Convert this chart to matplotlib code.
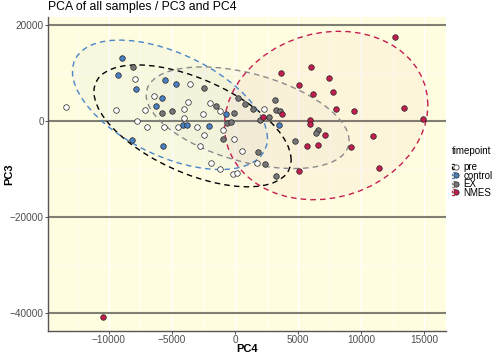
import numpy as np
import matplotlib
matplotlib.use("Agg")
import matplotlib.pyplot as plt
from matplotlib.patches import Polygon, Patch
from matplotlib.lines import Line2D
from matplotlib.legend_handler import HandlerTuple

plt.rcParams['font.family'] = ['Liberation Sans', 'DejaVu Sans']

# ---------------- data (PC4, PC3) ----------------
groups = ["pre", "control", "EX", "NMES"]

pre_pc4 = [-13390, -7913, -9421, -7167, -7802, -6984, -3572, -6405, -3754, -1984,
           -4048, -2516, -1167, -5635, -4500, -2992, -929, -2437, -56, -2778,
           532, -1905, -1190, -183, 159, 2278, 1770, -4087]
pre_pc3 = [2980, 8812, 2354, 2354, -100, -1250, 7646, 5146, 4021, 3812,
           2500, 1396, 2083, -1187, -1312, -1187, -1812, -2979, -3687, -5208,
           -6250, -8687, -10062, -11041, -10770, 2437, -8812, 625]

control_pc4 = [-8969, -9286, -7857, -8151, -5556, -4707, -5770, -6270, -4151, -3833,
               -2040, -714, -5690, 3468]
control_pc3 = [13062, 9521, 6729, -3958, 8479, 7646, 4792, 3062, -896, -833,
               -1104, 1458, -5208, -896]

ex_pc4 = [-8096, -2460, -1508, -5770, -5000, 262, 794, 1452, -56, -659,
          -317, -929, 3175, 3254, 3571, 2722, 2008, 6532, 6373, 4707,
          1802, 2405, 3254]
ex_pc3 = [11187, 6812, 3125, 1667, 2083, 4729, 3541, 2437, 1667, -479,
          -208, -3750, 4375, 2229, 2146, 896, 208, -1875, -2437, -4104,
          -6396, -9021, -11458]

nmes_pc4 = [3627, 5976, 5040, 7405, 6191, 7754, 7953, 3730, 2183, 5953,
            5953, 7080, 5675, 6532, 5024, 12659, 9445, 13413, 14898, 10929,
            9207, 11405, -10476]
nmes_pc3 = [10062, 11312, 7500, 8854, 5625, 6104, 2541, 1458, 896, 104,
            -625, -2917, -5208, -5042, -10354, 17562, 1979, 2604, 375, -3167,
            -5458, -9729, -40830]

x_ticks = [-10000, -5000, 0, 5000, 10000, 15000]
y_ticks = [-40000, -20000, 0, 20000]

data = {
    "pre": (pre_pc4, pre_pc3),
    "control": (control_pc4, control_pc3),
    "EX": (ex_pc4, ex_pc3),
    "NMES": (nmes_pc4, nmes_pc3),
}

point_fill = {"pre": "#FFFFFF", "control": "#4A7FC1", "EX": "#767676", "NMES": "#C41E4F"}
line_col = {"pre": "#000000", "control": "#4A86C8", "EX": "#8A8A8A", "NMES": "#C41E4F"}


def cov_trob(x, nu=5, maxit=25, tol=0.01):
    n, p = x.shape
    wt = np.ones(n)
    loc = x.mean(0)
    w = np.sqrt(wt)
    X = x - loc
    for _ in range(maxit):
        w0 = w
        X = x - loc
        sw = np.sqrt(w / w.sum())
        _, d, vt = np.linalg.svd(sw[:, None] * X, full_matrices=False)
        wX = X @ vt.T @ np.diag(1.0 / d)
        Q = (wX ** 2).sum(1)
        w = (wt * (nu + p)) / (nu + Q)
        loc = (w[:, None] * x).sum(0) / w.sum()
        if np.all(np.abs(w - w0) < tol):
            break
    sX = np.sqrt(w)[:, None] * X
    cov = sX.T @ sX / wt.sum()
    return cov, loc


def ellipse_pts(xs, ys, level=0.95, segments=51):
    x = np.column_stack([xs, ys]).astype(float)
    cov, center = cov_trob(x)
    n = x.shape[0]
    dfd = n - 1
    qf = dfd / 2.0 * ((1 - level) ** (-2.0 / dfd) - 1)
    radius = np.sqrt(2 * qf)
    R = np.linalg.cholesky(cov).T
    ang = np.arange(segments + 1) * 2 * np.pi / segments
    circ = np.column_stack([np.cos(ang), np.sin(ang)])
    return center + radius * (circ @ R)


fig = plt.figure(figsize=(5.0, 3.57), dpi=100)
ax = fig.add_axes([48 / 500, 1 - 331 / 357, (446 - 48) / 500, (331 - 17) / 357])
ax.set_facecolor("#FFFDE0")

for g in groups:
    xs, ys = data[g]
    e = ellipse_pts(xs, ys)
    ax.add_patch(Polygon(e, closed=True, facecolor=point_fill[g], alpha=0.035,
                         edgecolor="none", zorder=2))
    ax.add_patch(Polygon(e, closed=True, facecolor="none", edgecolor=line_col[g],
                         linestyle=(0, (4, 3)), linewidth=1.0, zorder=3))
    ax.update_datalim(e)

for g in groups:
    xs, ys = data[g]
    ax.scatter(xs, ys, s=16, c=point_fill[g], edgecolors="#222222",
               linewidths=0.5, zorder=4)

ax.autoscale_view()
ax.margins(0.05)

ax.set_xticks(x_ticks)
ax.set_yticks(y_ticks)
ax.set_xticklabels([f"{v}".replace("-", "\u2212") for v in x_ticks])
ax.set_yticklabels([f"{v}".replace("-", "\u2212") for v in y_ticks])
ax.set_xticks([-12500, -7500, -2500, 2500, 7500, 12500], minor=True)
ax.set_yticks([-30000, -10000, 10000], minor=True)

ax.grid(which="major", axis="x", color="white", linewidth=1.0, zorder=0)
ax.grid(which="minor", axis="both", color="white", linewidth=0.5, zorder=0)
ax.set_axisbelow(True)
for v in y_ticks:
    ax.axhline(v, color="#7F7F72", linewidth=1.5, zorder=1)

for s in ["top", "right"]:
    ax.spines[s].set_visible(False)
for s in ["left", "bottom"]:
    ax.spines[s].set_color("#555555")
    ax.spines[s].set_linewidth(1.0)

ax.tick_params(axis="both", which="major", length=2, width=0.6, color="#333333",
               labelsize=7.2, labelcolor="#4D4D4D", pad=1)
ax.tick_params(axis="both", which="minor", length=0)

ax.set_xlabel("PC4", fontsize=8, fontweight="bold")
ax.set_ylabel("PC3", fontsize=8, fontweight="bold")
ax.xaxis.set_label_coords(0.5, (331 - 349.5) / 314)
ax.yaxis.set_label_coords((9 - 48) / 398, 0.5)
ax.xaxis.label.set_va("center")
ax.yaxis.label.set_va("center")
ax.set_title("PCA of all samples / PC3 and PC4", fontsize=8.8, loc="left", pad=5)

handles = []
for g in groups:
    patch = Patch(facecolor="#FFFDE0", edgecolor=line_col[g], linestyle=(0, (2, 1.5)),
                  linewidth=0.9)
    mk = Line2D([], [], linestyle="none", marker="o", markersize=3.8,
                markerfacecolor=point_fill[g], markeredgecolor="#222222",
                markeredgewidth=0.5)
    handles.append((patch, mk))

fig.text(452 / 500, 1 - 151 / 357, "timepoint", fontsize=7, va="center", ha="left")
leg = fig.legend(handles, groups, handler_map={tuple: HandlerTuple(ndivide=None)},
                 loc="upper left", bbox_to_anchor=(452 / 500, 1 - 162 / 357),
                 frameon=False, fontsize=7,
                 handlelength=0.6, handleheight=0.55, handletextpad=0.6,
                 labelspacing=-0.15, borderpad=0.0, borderaxespad=0)

fig.savefig("out.png", dpi=100)
